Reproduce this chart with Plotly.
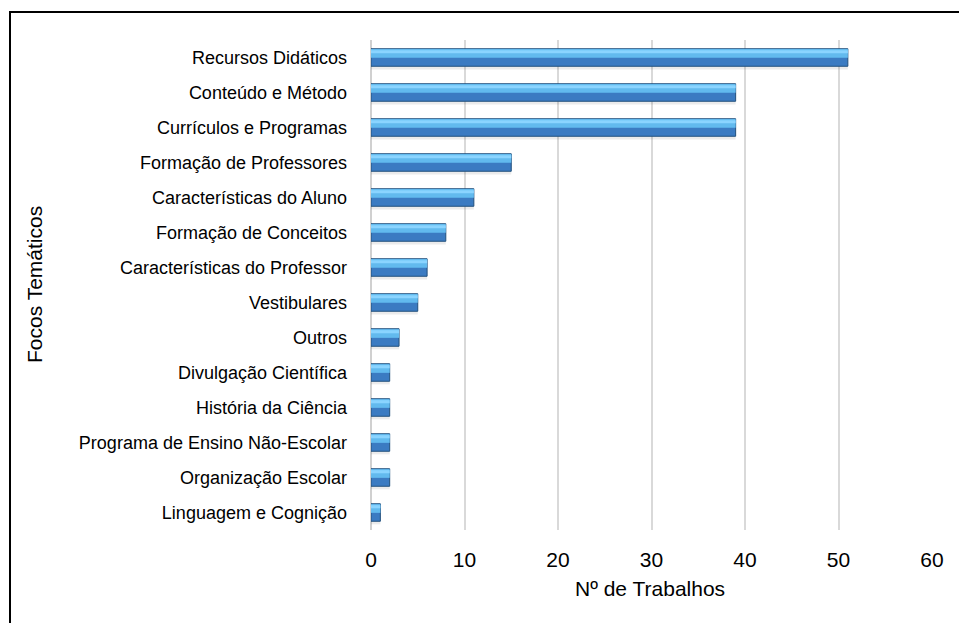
import plotly.graph_objects as go

categories = [
    "Recursos Didáticos",
    "Conteúdo e Método",
    "Currículos e Programas",
    "Formação de Professores",
    "Características do Aluno",
    "Formação de Conceitos",
    "Características do Professor",
    "Vestibulares",
    "Outros",
    "Divulgação Científica",
    "História da Ciência",
    "Programa de Ensino Não-Escolar",
    "Organização Escolar",
    "Linguagem e Cognição",
]
values = [51, 39, 39, 15, 11, 8, 6, 5, 3, 2, 2, 2, 2, 1]
x_ticks = [0, 10, 20, 30, 40, 50, 60]

FONT = "Liberation Sans, Arial, sans-serif"

fig = go.Figure()
# soft shadow
fig.add_trace(go.Bar(y=categories, x=values, orientation="h", width=0.5, offset=-0.16,
                     marker=dict(color="rgba(0,0,0,0.08)", line=dict(width=0)),
                     hoverinfo="skip", showlegend=False))
# body
fig.add_trace(go.Bar(y=categories, x=values, orientation="h", width=0.5, offset=-0.25,
                     marker=dict(color="#3b7bc2", line=dict(color="#22507c", width=1)),
                     showlegend=False))
# highlight band
fig.add_trace(go.Bar(y=categories, x=values, orientation="h", width=0.25, offset=-0.24,
                     marker=dict(color="#62baee", line=dict(width=0)),
                     hoverinfo="skip", showlegend=False))
# bright top line
fig.add_trace(go.Bar(y=categories, x=values, orientation="h", width=0.09, offset=-0.21,
                     marker=dict(color="#8ad4ff", line=dict(width=0)),
                     hoverinfo="skip", showlegend=False))

fig.update_layout(
    width=959, height=623,
    margin=dict(l=371, r=27, t=40, b=93),
    barmode="overlay",
    paper_bgcolor="white", plot_bgcolor="white",
    font=dict(family=FONT, size=18, color="#000000"),
    xaxis=dict(range=[0, 60], tickvals=x_ticks, showgrid=True, gridcolor="#d9d9d9",
               gridwidth=1.5, zeroline=True, zerolinecolor="#d0d0d0", zerolinewidth=2,
               showline=False, ticks="", ticklabelstandoff=15,
               tickfont=dict(size=21)),
    yaxis=dict(autorange="reversed", showgrid=False, showline=False, ticks="",
               ticklabelstandoff=23, tickfont=dict(size=18)),
    annotations=[
        dict(text="Nº de Trabalhos", xref="paper", yref="paper",
             x=(650 - 371) / 561, y=-(588 - 530) / 490, xanchor="center", yanchor="middle",
             showarrow=False, font=dict(size=21)),
        dict(text="Focos Temáticos", xref="paper", yref="paper",
             x=(34 - 371) / 561, y=(530 - 285) / 490, xanchor="center", yanchor="middle",
             textangle=-90, showarrow=False, font=dict(size=21)),
    ],
    shapes=[
        dict(type="rect", xref="paper", yref="paper",
             x0=(10 - 371) / 561, x1=1.2, y0=-0.3, y1=1 + (40 - 12) / 490,
             line=dict(color="black", width=2), fillcolor="rgba(0,0,0,0)", layer="below"),
    ],
)

fig.write_html("out.html")
